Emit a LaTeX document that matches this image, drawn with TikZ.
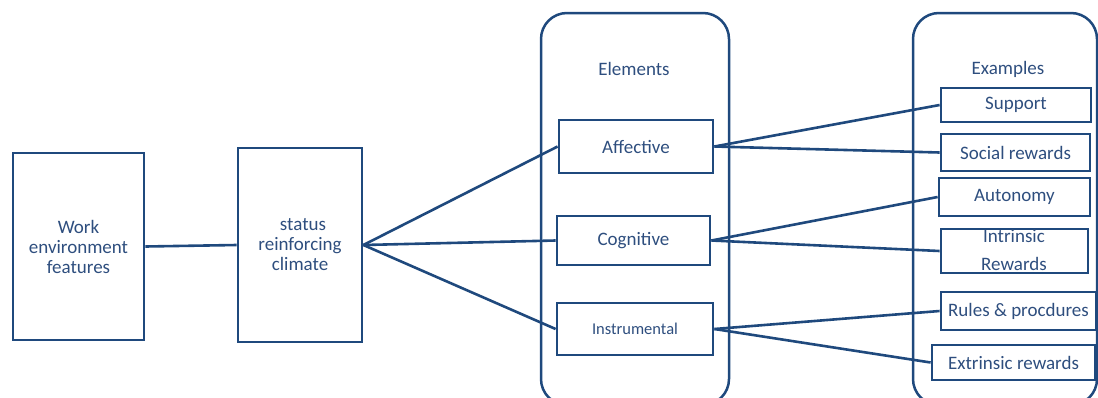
\documentclass[tikz,border=0pt]{standalone}
\usepackage{fontspec}
\setmainfont{Carlito}
\definecolor{boxblue}{HTML}{1F497D}
\definecolor{txtblue}{HTML}{2E4E7E}
\begin{document}
\begin{tikzpicture}[x=1pt,y=-1pt,
  bx/.style={draw=boxblue,line width=2.8pt,rectangle,inner sep=0pt,text=txtblue,font=\fontsize{19}{20}\selectfont,align=center},
  cont/.style={draw=boxblue,line width=2.5pt,rounded corners=26pt},
  conn/.style={draw=boxblue,line width=2.6pt},
  lbl/.style={text=txtblue,font=\fontsize{19}{20}\selectfont,inner sep=0pt}]
\useasboundingbox (0,0) rectangle (1098,397);
\clip (0,0) rectangle (1098,397);
% containers
\draw[cont] (541,13) rectangle (729,405);
\draw[cont] (913,13) rectangle (1097,405);
\node[lbl] (elab) at (634,69) {Elements};
\node[lbl] (xlab) at (1008,69) {Examples};
% left boxes
\node[bx,minimum width=131pt,minimum height=187pt] (work) at (78.5,246.5) {Work\\environment\\features};
\node[bx,minimum width=124pt,minimum height=194pt] (stat) at (300,245) {\hspace*{6pt}status\\reinforcing\\climate};
% elements
\node[bx,minimum width=154pt,minimum height=53pt] (aff) at (636,146.5) {Affective};
\node[bx,minimum width=153pt,minimum height=49pt] (cog) at (633.5,240.5) {Cognitive};
\node[bx,minimum width=156pt,minimum height=52pt,font=\fontsize{16.5}{18}\selectfont] (ins) at (635,329) {Instrumental};
% examples
\node[bx,minimum width=150pt,minimum height=34pt] (sup) at (1016,105) {Support};
\node[bx,minimum width=149pt,minimum height=37pt] (soc) at (1015.5,152.5) {Social rewards};
\node[bx,minimum width=151pt,minimum height=38pt] (aut) at (1014.5,197) {Autonomy};
\node[bx,minimum width=147pt,minimum height=44pt] (int) at (1014.5,251) {};
\node[lbl,align=center,font=\fontsize{19}{28}\selectfont] (inttxt) at (1014,250) {Intrinsic\\Rewards};
\node[bx,minimum width=155pt,minimum height=38pt] (rul) at (1018.5,311) {Rules \& procdures};
\node[bx,minimum width=163pt,minimum height=35pt] (ext) at (1013.5,362.5) {Extrinsic rewards};
% connectors
\draw[conn] (work.east) -- (stat.west);
\draw[conn] (stat.east) -- (aff.west);
\draw[conn] (stat.east) -- (cog.west);
\draw[conn] (stat.east) -- (ins.west);
\draw[conn] (aff.east) -- (sup.west);
\draw[conn] (aff.east) -- (soc.west);
\draw[conn] (cog.east) -- (aut.west);
\draw[conn] (cog.east) -- (int.west);
\draw[conn] (ins.east) -- (rul.west);
\draw[conn] (ins.east) -- (ext.west);
\end{tikzpicture}
\end{document}
